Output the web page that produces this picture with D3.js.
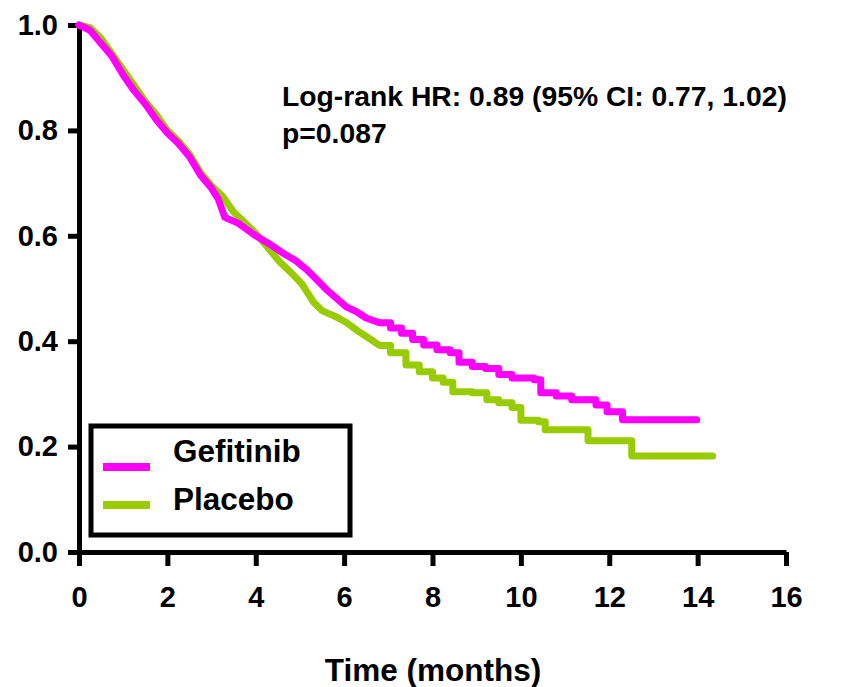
<!DOCTYPE html>
<html>
<head>
<meta charset="utf-8">
<script src="https://cdn.jsdelivr.net/npm/d3@7"></script>
<style>
  body { margin: 0; background: #fff; }
  svg text { font-family: "Liberation Sans", Arial, sans-serif; font-weight: bold; fill: #000; }
</style>
</head>
<body>
<svg id="chart" width="856" height="687"></svg>
<script>
// Courbes de survie (mois, proportion)
const gefitinibTimes = [0, 0.25, 0.5, 0.75, 1.0, 1.25, 1.5, 1.75, 2.0, 2.25, 2.5, 2.75, 3.0, 3.15, 3.3, 3.6, 3.8, 4.0, 4.3, 4.6, 4.9, 5.15, 5.4, 5.6, 5.85, 6.05, 6.3, 6.5, 6.8, 7.05, 7.3, 7.55, 7.8, 8.1, 8.4, 8.6, 8.9, 9.2, 9.5, 9.8, 10.3, 10.45, 10.8, 11.15, 11.7, 11.95, 12.3, 13.98];
const gefitinibSurv = [1.0, 0.99, 0.965, 0.94, 0.905, 0.875, 0.85, 0.82, 0.795, 0.775, 0.75, 0.715, 0.69, 0.67, 0.635, 0.624, 0.612, 0.6, 0.585, 0.568, 0.553, 0.536, 0.515, 0.498, 0.48, 0.465, 0.455, 0.444, 0.435, 0.425, 0.415, 0.403, 0.393, 0.384, 0.378, 0.36, 0.352, 0.348, 0.337, 0.33, 0.327, 0.302, 0.296, 0.289, 0.279, 0.266, 0.251, 0.251];

const placeboTimes = [0, 0.25, 0.5, 0.75, 1.0, 1.25, 1.5, 1.75, 2.0, 2.25, 2.5, 2.75, 3.0, 3.25, 3.5, 3.75, 4.0, 4.25, 4.55, 4.8, 5.05, 5.3, 5.5, 5.8, 6.06, 6.3, 6.52, 6.8, 7.05, 7.4, 7.7, 8.0, 8.24, 8.46, 8.9, 9.23, 9.5, 9.8, 10.0, 10.4, 10.55, 11.52, 12.51, 14.34];
const placeboSurv = [1.0, 0.995, 0.975, 0.945, 0.915, 0.885, 0.855, 0.83, 0.8, 0.78, 0.755, 0.72, 0.695, 0.675, 0.645, 0.625, 0.605, 0.58, 0.55, 0.53, 0.508, 0.475, 0.458, 0.447, 0.435, 0.42, 0.408, 0.392, 0.378, 0.355, 0.342, 0.33, 0.322, 0.304, 0.302, 0.289, 0.283, 0.274, 0.25, 0.247, 0.232, 0.211, 0.182, 0.182];

// Avant ce temps les marches sont minuscules : on trace en ligne continue
const stepStart = 7.0;

const seriesNames = ["Gefitinib", "Placebo"];
const seriesColors = ["#ff00ff", "#99cc00"];
const xTicks = [0, 2, 4, 6, 8, 10, 12, 14, 16];
const yTicks = [0.0, 0.2, 0.4, 0.6, 0.8, 1.0];
const annotationLines = ["Log-rank HR: 0.89 (95% CI: 0.77, 1.02)", "p=0.087"];
const xTitle = "Time (months)";

const svg = d3.select("#chart");

// Echelles
const x = d3.scaleLinear().domain([0, 16]).range([79, 786]);
const y = d3.scaleLinear().domain([0, 1]).range([552, 25]);

// Axe Y
const yAxis = svg.append("g")
    .attr("transform", `translate(${x(0)},0)`)
    .call(d3.axisLeft(y).tickValues(yTicks).tickFormat(d3.format(".1f"))
        .tickSize(11).tickSizeOuter(0).tickPadding(10));

// Axe X
const xAxis = svg.append("g")
    .attr("transform", `translate(0,${y(0)})`)
    .call(d3.axisBottom(x).tickValues(xTicks).tickFormat(d3.format("d"))
        .tickSize(14).tickSizeOuter(0).tickPadding(20));

[xAxis, yAxis].forEach(ax => {
    ax.select(".domain").attr("stroke", "#000").attr("stroke-width", 5);
    ax.selectAll(".tick line").attr("stroke", "#000").attr("stroke-width", 5);
    ax.selectAll(".tick text")
        .attr("font-size", 29)
        .attr("font-family", "Liberation Sans, Arial, sans-serif")
        .attr("font-weight", "bold")
        .attr("fill", "#000");
});

// Courbes de Kaplan-Meier : partie continue puis partie en marches
const smoothLine = d3.line()
    .x(d => x(d[0]))
    .y(d => y(d[1]))
    .curve(d3.curveLinear);

const stepLine = d3.line()
    .x(d => x(d[0]))
    .y(d => y(d[1]))
    .curve(d3.curveStepAfter);

function kmPath(pts) {
    const early = pts.filter(p => p[0] <= stepStart);
    const late = pts.filter(p => p[0] >= early[early.length - 1][0]);
    return smoothLine(early) + stepLine(late).replace(/^M/, "L");
}

const series = [
    d3.zip(placeboTimes, placeboSurv),
    d3.zip(gefitinibTimes, gefitinibSurv)
];
const seriesColorOrder = [seriesColors[1], seriesColors[0]];

svg.append("g")
    .selectAll("path")
    .data(series)
    .enter()
    .append("path")
    .attr("d", kmPath)
    .attr("fill", "none")
    .attr("stroke", (d, i) => seriesColorOrder[i])
    .attr("stroke-width", 7)
    .attr("stroke-linejoin", "round")
    .attr("stroke-linecap", "round");

// Annotation
svg.append("g")
    .selectAll("text")
    .data(annotationLines)
    .enter()
    .append("text")
    .attr("x", 282)
    .attr("y", (d, i) => 106 + i * 37)
    .attr("font-size", 28.3)
    .text(d => d);

// Légende
const legend = svg.append("g");
legend.append("rect")
    .attr("x", 91).attr("y", 426)
    .attr("width", 259).attr("height", 109)
    .attr("fill", "none")
    .attr("stroke", "#000")
    .attr("stroke-width", 5);

const lineY = [467, 505];
const textY = [462, 510];
seriesNames.forEach((name, i) => {
    legend.append("line")
        .attr("x1", 103).attr("x2", 150)
        .attr("y1", lineY[i]).attr("y2", lineY[i])
        .attr("stroke", seriesColors[i])
        .attr("stroke-width", 8);
    legend.append("text")
        .attr("x", 173).attr("y", textY[i])
        .attr("font-size", 31.5)
        .text(name);
});

// Titre de l'axe X
svg.append("text")
    .attr("x", 433)
    .attr("y", 681)
    .attr("text-anchor", "middle")
    .attr("font-size", 31.5)
    .text(xTitle);
</script>
</body>
</html>
